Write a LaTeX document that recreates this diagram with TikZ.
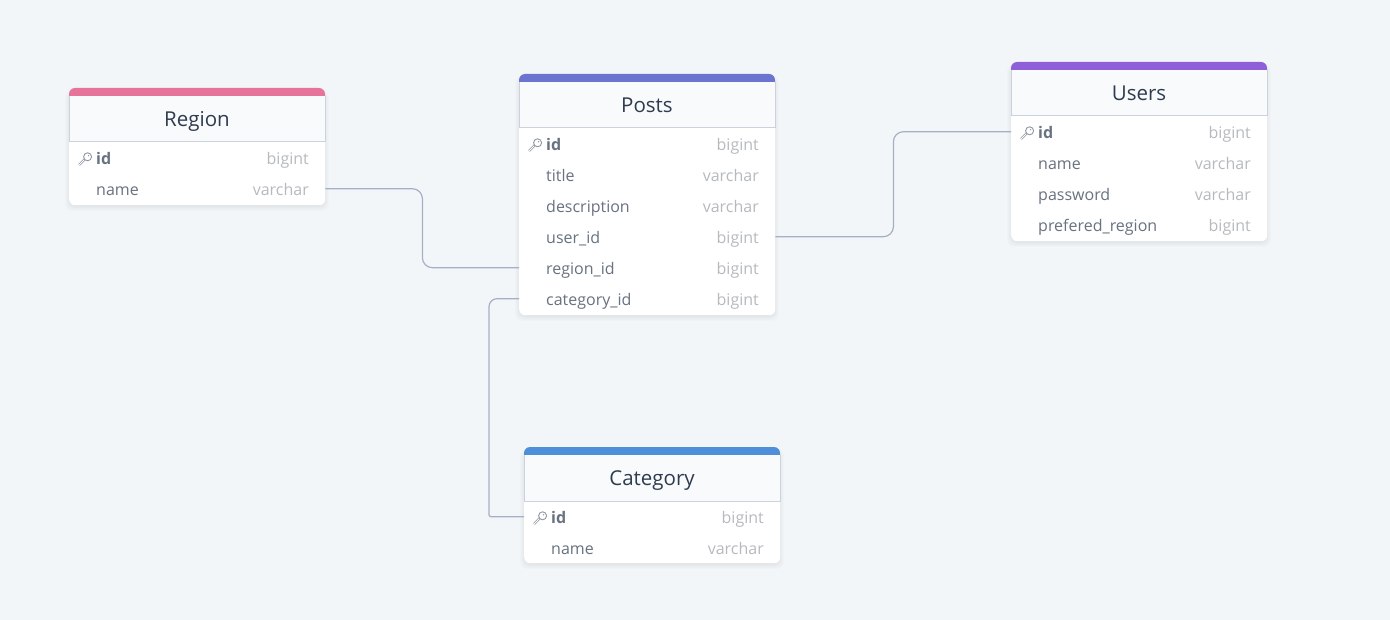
\documentclass[tikz,border=0pt]{standalone}
\usepackage{fontspec}
\setmainfont{Open Sans}
\usetikzlibrary{positioning}

\definecolor{pagebg}{HTML}{F2F6F9}
\definecolor{headbg}{HTML}{F8FAFC}
\definecolor{headline}{HTML}{CBD2DE}
\definecolor{titletext}{HTML}{2F3B4E}
\definecolor{fieldtext}{HTML}{687280}
\definecolor{typetext}{HTML}{B6BABF}
\definecolor{keyline}{HTML}{8F97A3}
\definecolor{linkline}{HTML}{A5B0C4}
\definecolor{regioncol}{HTML}{E6749A}
\definecolor{postscol}{HTML}{6B74CE}
\definecolor{userscol}{HTML}{8E5FD9}
\definecolor{categorycol}{HTML}{4F8FDA}

\tikzset{
	tablebox/.style = {fill = white, rounded corners = 6pt, minimum width = 256pt, inner sep = 0pt, anchor = north west},
	headbox/.style = {fill = headbg, minimum width = 256pt, minimum height = 45.5pt, inner sep = 0pt, anchor = north west},
	titlelabel/.style = {text = titletext, font = \fontsize{20.5}{24}\selectfont, anchor = base, inner sep = 0pt},
	rowbox/.style = {minimum width = 256pt, minimum height = 31pt, inner sep = 0pt, anchor = north west},
	fieldlabel/.style = {text = fieldtext, font = \fontsize{16}{19}\selectfont, anchor = base west, inner sep = 0pt},
	typelabel/.style = {text = typetext, font = \fontsize{16}{19}\selectfont, anchor = base east, inner sep = 0pt},
	linkstyle/.style = {draw = linkline, line width = 1.2pt}
}

% name, left, top, height, colour, title, rows
\newcommand{\dbtable}[7]{
	% soft shadow under the table
	\foreach \grow in {6, 5, 4, 3, 2, 1}
		\fill [black, opacity = 0.011, rounded corners = 7pt] (#2 - \grow + 2, #3 + 8 - \grow) rectangle (#2 + 254 + \grow, #3 + #4 + \grow);
	\node [tablebox, minimum height = #4 pt] (#1) at (#2, #3) {};
	\fill [#5, rounded corners = 6pt] (#2, #3) rectangle ++(256, 20);
	\node [headbox] (#1-head) at (#2, #3 + 8) {};
	\draw [headline, line width = 0.8pt] (#1-head.north west) -- (#1-head.south west) -- (#1-head.south east) -- (#1-head.north east);
	\node [titlelabel] (#1-title) at (#2 + 128, #3 + 38.8) {#6};
	\foreach \rowkey/\rowtext/\rowtype [count = \i from 0] in {#7} {
		\node [rowbox] (#1-\rowkey) at (#2, #3 + 54 + 31 * \i) {};
		\node [fieldlabel] (#1-\rowkey-text) at (#2 + 27, #3 + 76.3 + 31.1 * \i) {\ifnum\i=0 \bfseries\fi\rowtext};
		\node [typelabel] (#1-\rowkey-type) at (#2 + 240, #3 + 76.3 + 31.1 * \i) {\rowtype};
	}
	% key icon on the first row
	\begin{scope}[shift = {(#2 + 16, #3 + 71)}]
		\draw [keyline, line width = 0.7pt, double = white, double distance = 0.9pt] (-6, 6) -- (0, 0);
		\draw [keyline, line width = 0.9pt, fill = white] (2.6, -2.2) circle [radius = 4];
		\fill [keyline] (3.6, -3.2) circle [radius = 0.7];
	\end{scope}
}

\begin{document}
\begin{tikzpicture}[x = 1pt, y = -1pt]
	\useasboundingbox [fill = pagebg] (0, 0) rectangle (1390, 620);

	\dbtable{region}{69}{88}{117}{regioncol}{Region}{id/id/bigint, name/name/varchar}
	\dbtable{posts}{519}{74}{241}{postscol}{Posts}{id/id/bigint, title/title/varchar, description/description/varchar, user/user\_id/bigint, regionid/region\_id/bigint, category/category\_id/bigint}
	\dbtable{users}{1011}{62}{179}{userscol}{Users}{id/id/bigint, name/name/varchar, password/password/varchar, prefered/prefered\_region/bigint}
	\dbtable{category}{524}{447}{116}{categorycol}{Category}{id/id/bigint, name/name/varchar}

	\draw [linkstyle, rounded corners = 10pt] (region-name.east) -- ++(97, 0) |- (posts-regionid.west);
	\draw [linkstyle, rounded corners = 10pt] (posts-user.east) -- ++(118, 0) |- (users-id.west);
	\draw [linkstyle, rounded corners = 8pt] (posts-category.west) -- ++(-30, 0) [rounded corners = 2pt] |- (category-id.west);
\end{tikzpicture}
\end{document}
